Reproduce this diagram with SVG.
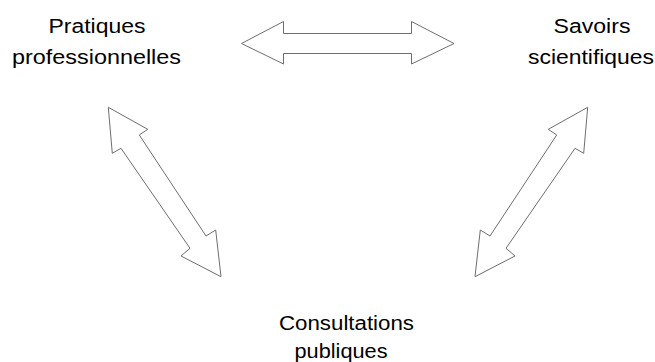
<svg xmlns="http://www.w3.org/2000/svg" width="655" height="362" viewBox="0 0 655 362">
<style>
.lbl{font-family:"Liberation Sans",Arial,sans-serif;font-size:20px;fill:#000;text-anchor:middle}
.arr{fill:#fff;stroke:#6e6e6e;stroke-width:1;stroke-linejoin:miter}
</style>
<rect width="655" height="362" fill="#fff"/>
<g id="node-pratiques">
<text class="lbl" x="97" y="33" textLength="97" lengthAdjust="spacingAndGlyphs">Pratiques</text>
<text class="lbl" x="96.5" y="63.5" textLength="169" lengthAdjust="spacingAndGlyphs">professionnelles</text>
</g>
<g id="node-savoirs">
<text class="lbl" x="592" y="33" textLength="77" lengthAdjust="spacingAndGlyphs">Savoirs</text>
<text class="lbl" x="591" y="63.5" textLength="126" lengthAdjust="spacingAndGlyphs">scientifiques</text>
</g>
<g id="node-consultations">
<text class="lbl" x="346.5" y="330" textLength="135" lengthAdjust="spacingAndGlyphs">Consultations</text>
<text class="lbl" x="341" y="357.5" textLength="93" lengthAdjust="spacingAndGlyphs">publiques</text>
</g>
<g id="connectors">
<polygon class="arr" points="241.5,43.5 283.5,21.5 283.5,33.5 411.5,33.5 411.5,21.5 454,43.5 411.5,64 411.5,53.5 283.5,53.5 283.5,64"/>
<polygon class="arr" points="108.3,107.3 147.7,129.3 139.3,135 206,236 215.7,230 221,276.7 181,256 190,248.3 121,148.3 112.3,153.3"/>
<polygon class="arr" points="587.7,107.3 548.3,129.3 556.7,135 490,236 480.3,230 475,276.7 515,256 506,248.3 575,148.3 583.7,153.3"/>
</g>
</svg>
